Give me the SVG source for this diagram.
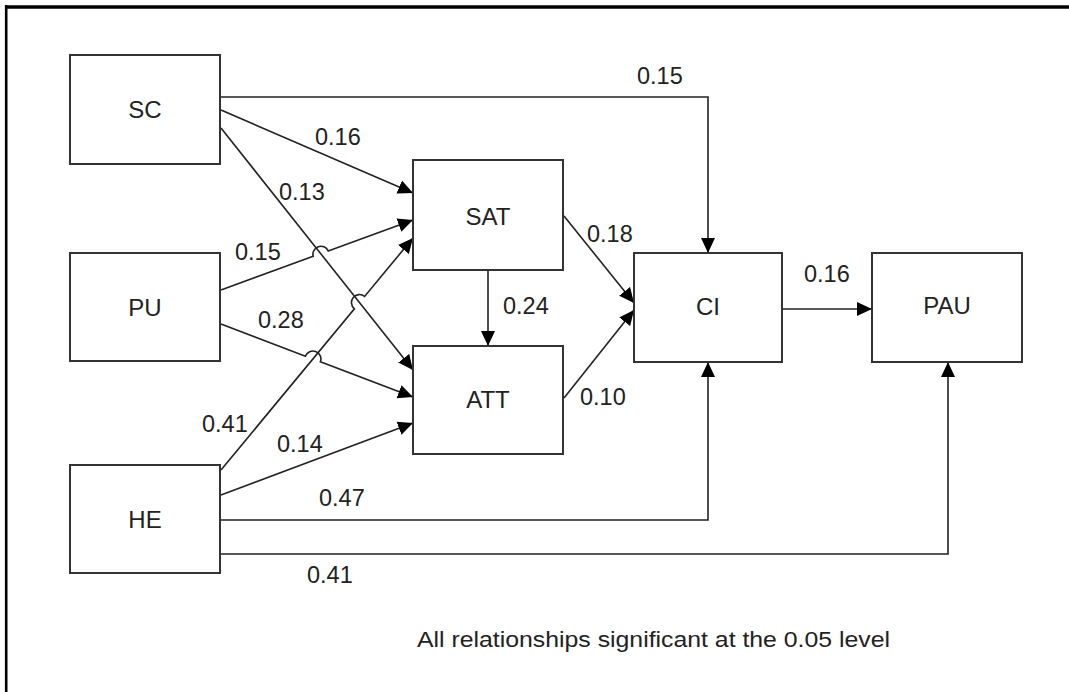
<svg xmlns="http://www.w3.org/2000/svg" width="1069" height="692" viewBox="0 0 1069 692">
<style>
.box{fill:#fff;stroke:#333;stroke-width:2}
.nl{font-family:"Liberation Sans",Arial,sans-serif;font-size:24px;fill:#222;text-anchor:middle}
.lb{font-family:"Liberation Sans",Arial,sans-serif;font-size:23.5px;fill:#222}
.cn{fill:none;stroke:#222;stroke-width:1.6}
.frame{stroke:#000;fill:none}
</style>
<defs>
<marker id="ah" markerUnits="userSpaceOnUse" markerWidth="16" markerHeight="15" refX="15" refY="7.5" orient="auto">
<path d="M0,0.5 L15,7.5 L0,14.5 z" fill="#000"/>
</marker>
</defs>
<rect width="1069" height="692" fill="#fff"/>
<line class="frame" x1="5" y1="7" x2="1069" y2="7" stroke-width="3.4"/>
<line class="frame" x1="6.2" y1="5" x2="6.2" y2="692" stroke-width="2.6"/>

<g id="connectors">
<path class="cn" d="M221,97 H708 V253" marker-end="url(#ah)"/>
<path class="cn" d="M221,110 L413,193" marker-end="url(#ah)"/>
<path class="cn" d="M221,128 L413,370" marker-end="url(#ah)"/>
<path class="cn" d="M221,290 L313.2,256.3 A8,8 0 0 1 328.2,250.9 L413,220" marker-end="url(#ah)"/>
<path class="cn" d="M221,324 L305.4,356.2 A8,8 0 0 1 320.4,361.8 L413,397" marker-end="url(#ah)"/>
<path class="cn" d="M221,470 L354.4,308.8 A8,8 0 0 1 364.6,296.4 L413,238" marker-end="url(#ah)"/>
<path class="cn" d="M221,495 L413,423" marker-end="url(#ah)"/>
<path class="cn" d="M221,520 H708 V362" marker-end="url(#ah)"/>
<path class="cn" d="M221,554 H948 V362" marker-end="url(#ah)"/>
<path class="cn" d="M488,270 V346" marker-end="url(#ah)"/>
<path class="cn" d="M564,216 L634,303" marker-end="url(#ah)"/>
<path class="cn" d="M564,398 L634,310" marker-end="url(#ah)"/>
<path class="cn" d="M783,309 H872" marker-end="url(#ah)"/>
</g>

<g id="labels">
<text class="lb" x="637" y="84">0.15</text>
<text class="lb" x="315" y="145">0.16</text>
<text class="lb" x="279" y="200">0.13</text>
<text class="lb" x="235" y="260">0.15</text>
<text class="lb" x="258" y="328">0.28</text>
<text class="lb" x="202" y="432">0.41</text>
<text class="lb" x="277" y="452">0.14</text>
<text class="lb" x="319" y="506">0.47</text>
<text class="lb" x="307" y="583">0.41</text>
<text class="lb" x="503" y="314">0.24</text>
<text class="lb" x="587" y="242">0.18</text>
<text class="lb" x="580" y="405">0.10</text>
<text class="lb" x="804" y="282">0.16</text>
</g>

<g id="SC"><rect class="box" x="70" y="55" width="150" height="109"/><text class="nl" x="145" y="118">SC</text></g>
<g id="PU"><rect class="box" x="70" y="253" width="150" height="108"/><text class="nl" x="145" y="316">PU</text></g>
<g id="HE"><rect class="box" x="70" y="465" width="150" height="108"/><text class="nl" x="145" y="528">HE</text></g>
<g id="SAT"><rect class="box" x="413" y="160" width="150" height="110"/><text class="nl" x="488" y="225">SAT</text></g>
<g id="ATT"><rect class="box" x="413" y="346" width="150" height="108"/><text class="nl" x="488" y="408">ATT</text></g>
<g id="CI"><rect class="box" x="634" y="253" width="148" height="109"/><text class="nl" x="708" y="315">CI</text></g>
<g id="PAU"><rect class="box" x="872" y="253" width="150" height="109"/><text class="nl" x="947" y="314">PAU</text></g>

<text x="417" y="647" font-family="Liberation Sans, Arial, sans-serif" font-size="21.5" fill="#222" textLength="473" lengthAdjust="spacingAndGlyphs">All relationships significant at the 0.05 level</text>
</svg>
